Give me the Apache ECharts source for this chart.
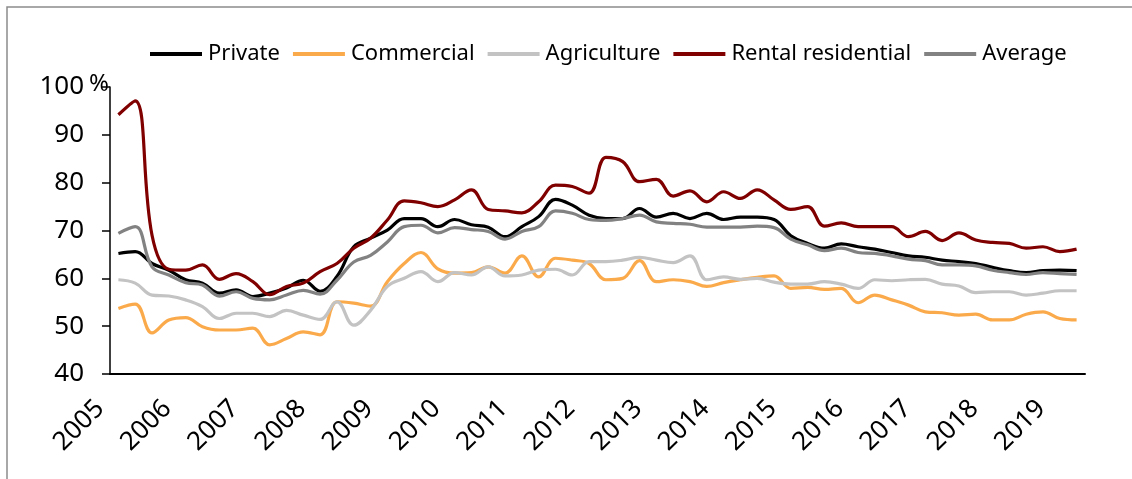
<!DOCTYPE html>
<html>
<head>
<meta charset="utf-8">
<script src="https://cdn.jsdelivr.net/npm/echarts@6/dist/echarts.min.js"></script>
<style>
  html, body { margin: 0; padding: 0; background: #fff; }
  #chart { width: 1132px; height: 479px; }
</style>
</head>
<body>
<div id="chart"></div>
<script>
// quarterly, 2005Q1 .. 2019Q2
var years = [];
for (var y = 2005; y <= 2019; y++) years.push(y);
var quarters = [];
years.forEach(function (yr) {
    for (var q = 1; q <= 4; q++) quarters.push(yr + 'Q' + q);
});
quarters = quarters.slice(0, 58);

var privateVals = [65.2, 65.6, 63.1, 61.7, 59.7, 59.0, 56.9, 57.6, 56.2, 56.9,
    58.0, 59.6, 57.3, 60.4, 66.6, 68.4, 70.1, 72.5, 72.5, 70.8,
    72.3, 71.2, 70.7, 68.7, 70.8, 72.9, 76.5, 75.3, 73.2, 72.5,
    72.5, 74.6, 72.8, 73.6, 72.5, 73.6, 72.3, 72.8, 72.8, 72.3,
    68.9, 67.3, 66.3, 67.2, 66.6, 66.1, 65.4, 64.7, 64.4, 63.8,
    63.5, 63.1, 62.3, 61.6, 61.2, 61.6, 61.7, 61.6];

var commercialVals = [53.7, 54.6, 48.6, 51.3, 51.8, 49.9, 49.2, 49.2, 49.6, 46.1,
    47.4, 48.8, 48.2, 55.1, 54.8, 54.2, 59.3, 63.1, 65.4, 62.0,
    61.1, 61.2, 62.4, 61.1, 64.7, 60.3, 64.2, 63.8, 63.1, 59.7,
    60.0, 63.7, 59.3, 59.7, 59.3, 58.3, 59.1, 59.7, 60.2, 60.5,
    57.9, 58.1, 57.7, 57.9, 54.9, 56.5, 55.5, 54.4, 53.0, 52.8,
    52.3, 52.5, 51.3, 51.3, 52.5, 53.0, 51.6, 51.3];

var agricultureVals = [59.7, 59.0, 56.5, 56.3, 55.5, 54.1, 51.6, 52.7, 52.7, 52.0,
    53.3, 52.3, 51.4, 55.1, 50.2, 53.3, 58.3, 60.0, 61.4, 59.3,
    61.2, 60.7, 62.4, 60.5, 60.7, 61.7, 61.9, 60.7, 63.5, 63.5,
    63.8, 64.4, 63.8, 63.3, 64.7, 59.7, 60.3, 59.8, 60.0, 59.2,
    58.8, 58.8, 59.3, 58.8, 57.9, 59.7, 59.5, 59.7, 59.8, 58.8,
    58.4, 57.0, 57.2, 57.2, 56.5, 56.9, 57.4, 57.4];

var rentalVals = [94.2, 97.1, 69.0, 61.9, 61.7, 62.8, 59.8, 61.0, 59.3, 56.6,
    58.3, 59.0, 61.4, 63.1, 66.3, 68.4, 72.2, 76.2, 75.8, 75.0,
    76.4, 78.5, 74.4, 74.1, 73.7, 76.0, 79.5, 79.2, 77.8, 85.3,
    84.4, 80.2, 80.7, 77.2, 78.3, 76.0, 78.1, 76.7, 78.5, 76.4,
    74.4, 75.0, 70.9, 71.6, 70.8, 70.8, 70.8, 68.7, 69.8, 67.9,
    69.5, 68.0, 67.5, 67.3, 66.3, 66.6, 65.6, 66.1];

var averageVals = [69.4, 70.8, 62.4, 60.7, 59.1, 58.6, 56.3, 57.2, 55.8, 55.5,
    56.5, 57.5, 56.7, 59.6, 63.4, 64.8, 67.6, 70.8, 71.1, 69.5,
    70.6, 70.2, 69.8, 68.2, 69.8, 70.8, 74.1, 73.6, 72.3, 72.1,
    72.5, 73.2, 71.8, 71.5, 71.3, 70.7, 70.7, 70.7, 70.9, 70.6,
    68.2, 67.0, 65.8, 66.3, 65.4, 65.2, 64.7, 64.0, 63.7, 62.8,
    62.8, 62.6, 61.7, 61.2, 60.8, 61.2, 61.0, 60.8];

var chart = echarts.init(document.getElementById('chart'));
var font = 'Noto Sans';

var mkLine = function (name, data, color) {
    return {
        name: name,
        type: 'line',
        data: data,
        smooth: 0.4,
        symbol: 'none',
        showSymbol: false,
        lineStyle: { color: color, width: 3.2 },
        itemStyle: { color: color }
    };
};

var option = {
    backgroundColor: '#fff',
    animation: false,
    textStyle: { fontFamily: font },
    graphic: [
        {
            type: 'rect',
            shape: { x: 7, y: 7, width: 1140, height: 500 },
            style: { fill: 'none', stroke: '#8c8c8c', lineWidth: 1.5 }
        },
        {
            type: 'text',
            left: 89,
            top: 72,
            style: { text: '%', fontSize: 24, fontFamily: font, fill: '#000' }
        }
    ],
    legend: {
        left: 145,
        top: 38,
        icon: 'rect',
        itemWidth: 52,
        itemHeight: 4,
        itemGap: 13,
        textStyle: { fontSize: 22, color: '#000', fontFamily: font, padding: [0, 0, 0, 1] },
        data: ['Private', 'Commercial', 'Agriculture', 'Rental residential', 'Average']
    },
    grid: { left: 110, right: 47, top: 87, bottom: 105 },
    xAxis: {
        type: 'category',
        data: quarters,
        boundaryGap: true,
        axisLine: { lineStyle: { color: '#000', width: 2 } },
        axisTick: { show: false },
        axisLabel: {
            interval: 3,
            rotate: 45,
            margin: 12,
            padding: [0, 26, 0, 0],
            fontSize: 26,
            color: '#000',
            fontFamily: font,
            formatter: function (v) { return v.slice(0, 4); }
        }
    },
    yAxis: {
        type: 'value',
        min: 40,
        max: 100,
        interval: 10,
        splitLine: { show: false },
        axisLine: { show: true, lineStyle: { color: '#000', width: 1.5 } },
        axisTick: { show: true, inside: false, length: 8, lineStyle: { color: '#000', width: 1.5 } },
        axisLabel: { margin: 26, fontSize: 26, color: '#000', fontFamily: font }
    },
    series: [
        mkLine('Private', privateVals, '#000000'),
        mkLine('Commercial', commercialVals, '#FBAA4B'),
        mkLine('Agriculture', agricultureVals, '#C3C3C3'),
        mkLine('Rental residential', rentalVals, '#800000'),
        mkLine('Average', averageVals, '#828282')
    ]
};

option && chart.setOption(option);
</script>
</body>
</html>
